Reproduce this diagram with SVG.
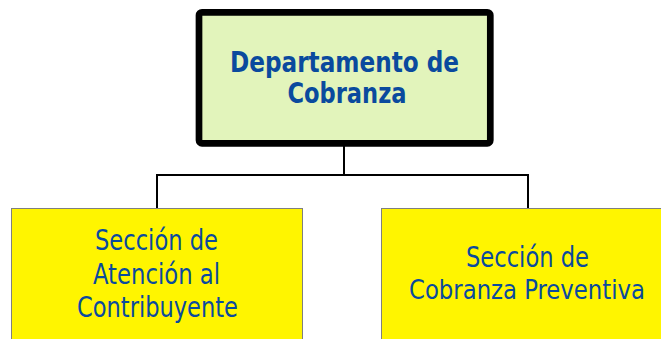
<svg xmlns="http://www.w3.org/2000/svg" width="661" height="339" viewBox="0 0 661 339">
<style>
.t{font-family:"DejaVu Sans Condensed","DejaVu Sans",sans-serif;font-stretch:condensed;fill:#0A4A9E;text-anchor:middle}
.b{font-weight:bold;font-size:29px}
.r{font-size:29px}
.sec{fill:#FFF500;stroke:#7F7F7F;stroke-width:1}
.conn{fill:none;stroke:#000;stroke-width:2}
</style>
<rect width="661" height="339" fill="#fff"/>
<g id="connectors">
<path class="conn" d="M344 146 V175 M157 175 H528 M157 174 V209 M528 174 V209"/>
</g>
<g id="dept">
<rect x="199" y="12.3" width="291.3" height="131" rx="3" fill="#E2F4BB" stroke="#000" stroke-width="6.7"/>
<text class="t b" x="344.5" y="72" textLength="229" lengthAdjust="spacingAndGlyphs">Departamento de</text>
<text class="t b" x="347" y="103" textLength="119" lengthAdjust="spacingAndGlyphs">Cobranza</text>
</g>
<g id="sec1">
<rect class="sec" x="11.5" y="208.5" width="291" height="140"/>
<text class="t r" x="156.5" y="250" textLength="123" lengthAdjust="spacingAndGlyphs">Sección de</text>
<text class="t r" x="156.5" y="283.5" textLength="127" lengthAdjust="spacingAndGlyphs">Atención al</text>
<text class="t r" x="157.5" y="317" textLength="161" lengthAdjust="spacingAndGlyphs">Contribuyente</text>
</g>
<g id="sec2">
<rect class="sec" x="381.5" y="208.5" width="291" height="140"/>
<text class="t r" x="527.5" y="267" textLength="123" lengthAdjust="spacingAndGlyphs">Sección de</text>
<text class="t" x="527" y="298.5" font-size="26" textLength="236" lengthAdjust="spacingAndGlyphs">Cobranza Preventiva</text>
</g>
</svg>
